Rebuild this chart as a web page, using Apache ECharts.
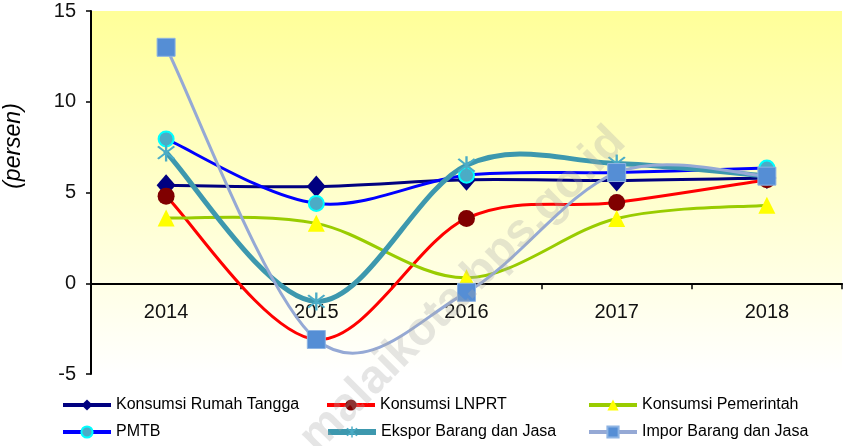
<!DOCTYPE html>
<html>
<head>
<meta charset="utf-8">
<script src="https://cdn.jsdelivr.net/npm/echarts@6/dist/echarts.min.js"></script>
<style>html,body{margin:0;padding:0;background:#fff}#c{width:843px;height:446px}</style>
</head>
<body>
<div id="c"></div>
<script>
var categories = ['2014', '2015', '2016', '2017', '2018'];
var rumahTangga = [5.4, 5.33, 5.7, 5.66, 5.8];
var lnprt = [4.8, -3.1, 3.57, 4.45, 5.7];
var pemerintah = [3.6, 3.3, 0.3, 3.57, 4.3];
var pmtb = [7.95, 4.4, 5.95, 6.1, 6.35];
var ekspor = [7.2, -1.0, 6.5, 6.6, 5.9];
var impor = [13.0, -3.1, -0.5, 6.1, 5.9];
var seriesNames = ['Konsumsi Rumah Tangga', 'Konsumsi LNPRT', 'Konsumsi Pemerintah', 'PMTB', 'Ekspor Barang dan Jasa', 'Impor Barang dan Jasa'];
var yTicks = { min: -5, max: 15, interval: 5 };

var FONT = 'Liberation Sans, Arial, sans-serif';
var asterisk = 'path://M-1,-10L1,-10L1,10L-1,10Z M-6.3,-7.7L7.7,6.3L6.3,7.7L-7.7,-6.3Z M7.7,-6.3L-6.3,7.7L-7.7,6.3L6.3,-7.7Z';

// Excel-style smoothed line (Catmull-Rom bezier) drawn through the axis scales
function curve(values, color, width) {
  return {
    type: 'custom', silent: true,
    data: values.map(function (v, i) { return [i, v]; }),
    encode: { x: 0, y: 1 },
    renderItem: function (params, api) {
      if (params.dataIndex !== 0) return { type: 'group', children: [] };
      var pts = values.map(function (v, i) { return api.coord([i, v]); });
      var ch = [];
      for (var i = 0; i < pts.length - 1; i++) {
        var p0 = pts[i - 1] || pts[i], p1 = pts[i], p2 = pts[i + 1], p3 = pts[i + 2] || pts[i + 1];
        ch.push({
          type: 'bezierCurve',
          shape: {
            x1: p1[0], y1: p1[1], x2: p2[0], y2: p2[1],
            cpx1: p1[0] + (p2[0] - p0[0]) / 6, cpy1: p1[1] + (p2[1] - p0[1]) / 6,
            cpx2: p2[0] - (p3[0] - p1[0]) / 6, cpy2: p2[1] - (p3[1] - p1[1]) / 6
          },
          style: { stroke: color, lineWidth: width, fill: null, lineCap: 'round' }
        });
      }
      return { type: 'group', children: ch };
    }
  };
}

function marks(name, data, symbol, size, fill, border, bw) {
  return {
    name: name, type: 'line', data: data,
    symbol: symbol, symbolSize: size, showSymbol: true,
    lineStyle: { opacity: 0 },
    itemStyle: { color: fill, borderColor: border || fill, borderWidth: bw || 0 },
    emphasis: { disabled: true }
  };
}

var lineColors = ['#000080', '#FF0000', '#99CC00', '#0000FF', '#3D98AE', '#95A9D5'];
var lineWidths = [3, 3, 3, 3, 5, 3];

var series = [
  curve(rumahTangga, lineColors[0], lineWidths[0]),
  marks(seriesNames[0], rumahTangga, 'diamond', [19, 22], '#000080'),
  curve(lnprt, lineColors[1], lineWidths[1]),
  marks(seriesNames[1], lnprt, 'circle', 17, '#800000'),
  curve(pemerintah, lineColors[2], lineWidths[2]),
  marks(seriesNames[2], pemerintah, 'triangle', 17, '#FFFF00'),
  curve(pmtb, lineColors[3], lineWidths[3]),
  marks(seriesNames[3], pmtb, 'circle', 15, '#4BACC6', '#00FFFF', 2),
  curve(ekspor, lineColors[4], lineWidths[4]),
  marks(seriesNames[4], ekspor, asterisk, 18, '#4BACC6'),
  curve(impor, lineColors[5], lineWidths[5]),
  marks(seriesNames[5], impor, 'rect', 18, '#558ED5', '#8EB4E3', 1)
];

var legendPos = [[61, 397], [325, 397], [587, 397], [61, 424], [325, 424], [587, 424]];
var legends = seriesNames.map(function (n, i) {
  return {
    data: [n], left: legendPos[i][0], top: legendPos[i][1], padding: 0,
    itemWidth: 48, itemHeight: 14, itemGap: 0, selectedMode: false,
    lineStyle: { color: lineColors[i], width: i === 4 ? 6 : 4, opacity: 1 },
    textStyle: { fontFamily: FONT, fontSize: 16, color: '#000' }
  };
});

var chart = echarts.init(document.getElementById('c'), null, { renderer: 'canvas' });
chart.setOption({
  animation: false,
  backgroundColor: '#fff',
  grid: {
    left: 91, right: 1, top: 11, bottom: 72, show: true, borderWidth: 0,
    backgroundColor: new echarts.graphic.LinearGradient(0, 0, 0, 1, [
      { offset: 0, color: '#FFFF99' }, { offset: 1, color: '#FFFFFF' }
    ])
  },
  legend: legends,
  xAxis: {
    type: 'category', data: categories, boundaryGap: true,
    axisLine: { onZero: true, lineStyle: { color: '#000', width: 2 } },
    axisTick: { show: true, length: 6, lineStyle: { color: '#000', width: 1.5 } },
    axisLabel: { fontFamily: FONT, fontSize: 20, color: '#111', margin: -72 },
    splitLine: { show: false }
  },
  yAxis: {
    type: 'value', min: yTicks.min, max: yTicks.max, interval: yTicks.interval,
    axisLine: { show: true, lineStyle: { color: '#000', width: 2 } },
    axisTick: { show: true, length: 5, lineStyle: { color: '#000', width: 1.5 } },
    axisLabel: { fontFamily: FONT, fontSize: 20, color: '#111', margin: 15 },
    splitLine: { show: false }
  },
  graphic: [
    {
      type: 'text', x: 14, y: 146, rotation: Math.PI / 2,
      style: { text: '(persen)', fontFamily: FONT, fontSize: 23, fontStyle: 'italic', fill: '#000', align: 'center', verticalAlign: 'middle' }
    },
    {
      type: 'text', x: 463, y: 290, rotation: Math.PI / 4, z: 100,
      style: { text: 'malaikota.bps.go.id', fontFamily: FONT, fontSize: 47, fontWeight: 'bold', fill: 'rgba(170,170,170,0.3)', align: 'center', verticalAlign: 'middle' }
    }
  ],
  series: series
});
</script>
</body>
</html>
